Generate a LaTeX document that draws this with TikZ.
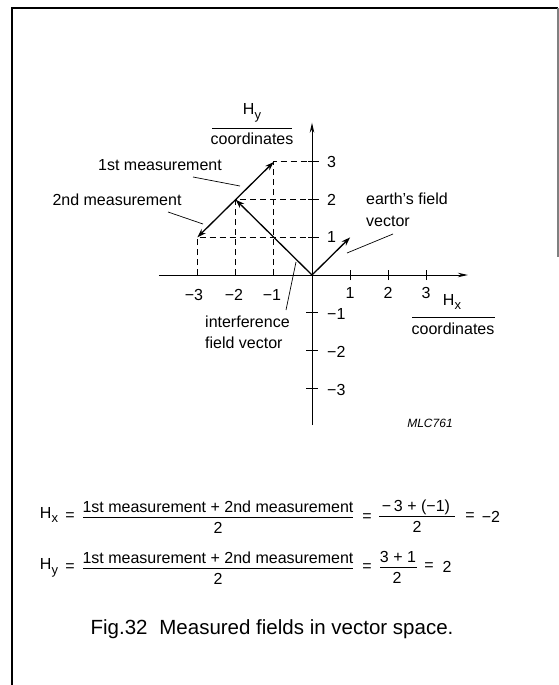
\documentclass[tikz,border=0pt]{standalone}
\usepackage{fontspec}
\setmainfont{Liberation Sans}
\usetikzlibrary{arrows.meta}
\newcommand\mysub[1]{\raisebox{-0.3em}{\fontsize{13}{13}\selectfont #1}}
\begin{document}
\begin{tikzpicture}[x=1pt,y=-1pt,
  lbl/.style={inner sep=0pt, font=\fontsize{16}{19}\selectfont},
  caption/.style={inner sep=0pt, font=\fontsize{20.5}{24}\selectfont},
  codelbl/.style={inner sep=0pt, font=\fontsize{12}{14}\selectfont\itshape},
  axisline/.style={line width=1pt, -{Stealth[length=10pt,width=4.5pt]}},
  vec/.style={line width=1.3pt, -{Stealth[length=9pt,width=6pt]}},
  guide/.style={line width=0.9pt, dash pattern=on 6pt off 4pt},
  tick/.style={line width=0.9pt},
  leader/.style={line width=0.7pt},
  bar/.style={line width=0.7pt},
  frame/.style={line width=1.3pt}]
\useasboundingbox (0,0) rectangle (559,685);
% frame
\draw[frame] (12,685) -- (12,8) -- (558,8);
\draw[frame, gray] (558,8) -- (558,257);

% plot
\begin{scope}[shift={(312,275)}, x=38.2pt, y=37.7pt]
  \coordinate (O) at (0,0);
  \coordinate (xl) at (-4.01,0);
  \coordinate (xr) at (4.08,0);
  \coordinate (yb) at (0,-3.98);
  \coordinate (yt) at (0,4.04);
  \coordinate (E) at (1,1);
  \coordinate (I) at (-2,2);
  \coordinate (M1) at (-1,3);
  \coordinate (M2) at (-3,1);
  % guides
  \draw[guide] (-1,0) -- (-1,3) -- (0,3);
  \draw[guide] (-2,0) -- (-2,2) -- (0,2);
  \draw[guide] (-3,0) -- (-3,1) -- (0,1);
  % axes
  \draw[axisline] (xl) -- (xr);
  \draw[axisline] (yb) -- (yt);
  % ticks
  \foreach \k in {1,2,3} {
    \draw[tick] (\k,0) ++(0,-5pt) -- ++(0,10pt);
    \draw[tick] (0,\k) ++(-4pt,0) -- ++(11pt,0);
    \draw[tick] (0,-\k) ++(-6pt,0) -- ++(12pt,0);
  }
  % vectors
  \draw[vec] (O) -- (E);
  \draw[vec] (O) -- (I);
  \draw[vec] (I) -- (M1);
  \draw[vec] (I) -- (M2);
\end{scope}

% tick labels
\node[lbl] (xm3) at (194,295) {−3};
\node[lbl] (xm2) at (234,295) {−2};
\node[lbl] (xm1) at (272,295) {−1};
\node[lbl] (xp1) at (350,293) {1};
\node[lbl] (xp2) at (388,293) {2};
\node[lbl] (xp3) at (426,293) {3};
\node[lbl, anchor=west] (yp3) at (327,162) {3};
\node[lbl, anchor=west] (yp2) at (327,200) {2};
\node[lbl, anchor=west] (yp1) at (327,237) {1};
\node[lbl, anchor=west] (ym1) at (327,314) {−1};
\node[lbl, anchor=west] (ym2) at (327,352) {−2};
\node[lbl, anchor=west] (ym3) at (327,390) {−3};

% axis titles
\node[lbl] (hy) at (252,113) {H\mysub{y}};
\draw[bar] (212,128) -- (292,128);
\node[lbl] (hycoord) at (252,139) {coordinates};
\node[lbl] (hx) at (452,302) {H\mysub{x}};
\draw[bar] (412,317) -- (495,317);
\node[lbl] (hxcoord) at (453,329) {coordinates};

% annotations
\node[lbl] (first) at (160,165) {1st measurement};
\coordinate (firstA) at (193,177);
\coordinate (firstB) at (240,186);
\draw[leader] (firstA) -- (firstB);
\node[lbl] (second) at (117,200) {2nd measurement};
\coordinate (secondA) at (168,212);
\coordinate (secondB) at (203,224);
\draw[leader] (secondA) -- (secondB);
\node[lbl, anchor=west] (earth1) at (366,199) {earth's field};
\node[lbl, anchor=west] (earth2) at (366,221) {vector};
\coordinate (earthA) at (393,234);
\coordinate (earthB) at (347,253);
\draw[leader] (earthA) -- (earthB);
\node[lbl, anchor=west] (interf1) at (205,322) {interference};
\node[lbl, anchor=west] (interf2) at (205,343) {field vector};
\coordinate (interfA) at (286,310);
\coordinate (interfB) at (296,262);
\draw[leader] (interfA) -- (interfB);
\node[codelbl] (mlc) at (430,423) {MLC761};

% equation Hx
\node[lbl] (eqhx) at (49,515) {H\mysub{x}};
\node[lbl] (eqx1) at (70,517) {=};
\node[lbl] (numx1) at (218,507) {1st measurement + 2nd measurement};
\draw[bar] (83,517) -- (353,517);
\node[lbl] (denx1) at (218,528) {2};
\node[lbl] (eqx2) at (367,518) {=};
\node[lbl] (numx2) at (416,507) {−\,3 + (−1)};
\draw[bar] (379,516) -- (455,516);
\node[lbl] (denx2) at (417,527) {2};
\node[lbl] (eqx3) at (470,517) {=};
\node[lbl] (resx) at (491,517) {−2};

% equation Hy
\node[lbl] (eqhy) at (49,568) {H\mysub{y}};
\node[lbl] (eqy1) at (70,568) {=};
\node[lbl] (numy1) at (218,558) {1st measurement + 2nd measurement};
\draw[bar] (83,568) -- (353,568);
\node[lbl] (deny1) at (218,579) {2};
\node[lbl] (eqy2) at (367,568) {=};
\node[lbl] (numy2) at (398,557) {3 + 1};
\draw[bar] (380,567) -- (417,567);
\node[lbl] (deny2) at (397,578) {2};
\node[lbl] (eqy3) at (429,567) {=};
\node[lbl] (resy) at (447,567) {2};

% caption
\node[caption] (cap) at (272,629) {Fig.32\hspace{0.3em} Measured fields in vector space.};
\end{tikzpicture}
\end{document}
